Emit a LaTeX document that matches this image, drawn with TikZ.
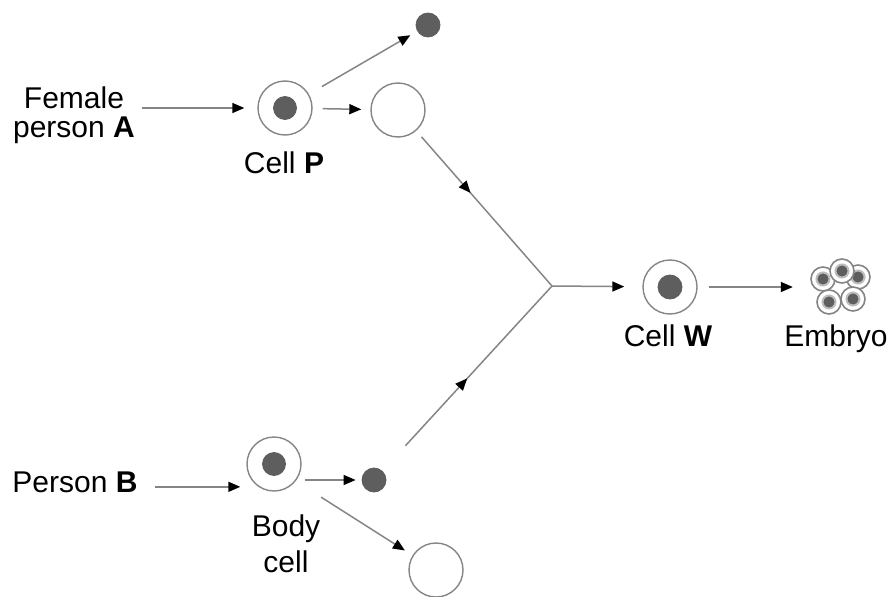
\documentclass[tikz,border=0pt]{standalone}
\usepackage{fontspec}
\setmainfont{Liberation Sans}
\usetikzlibrary{arrows.meta,decorations.markings,calc}
\definecolor{linegray}{HTML}{858585}
\definecolor{nucgray}{HTML}{5E5E5E}
\begin{document}
\begin{tikzpicture}[x=1pt,y=-1pt,
  lbl/.style={font=\fontsize{30}{29}\selectfont, inner sep=0pt, align=center},
  cell/.style={circle, draw=linegray, line width=1.4pt, fill=white, minimum size=54pt, inner sep=0pt},
  nucleus/.style={circle, draw=linegray!70!black, fill=nucgray, line width=0.8pt, minimum size=23pt, inner sep=0pt},
  embcell/.style={circle, draw=linegray, line width=1.6pt, fill=white, minimum size=24pt, inner sep=0pt},
  embnuc/.style={circle, draw=linegray!55, fill=nucgray, line width=2pt, minimum size=13pt, inner sep=0pt},
  conn/.style={draw=linegray, line width=1.5pt},
  arr/.style={conn, -{Triangle[length=12pt,width=10pt,color=black]}},
  midarrow/.style={conn, postaction={decorate},
    decoration={markings, mark=at position #1 with {\arrow{Triangle[length=12pt,width=10pt,color=black]}}}}
]
\useasboundingbox (0,0) rectangle (895,597);

% text labels
\node[lbl] (femA) at (74,115) {Female\\person \textbf{A}};
\node[lbl, anchor=base] (persB) at (75,492) {Person \textbf{B}};
\node[lbl, anchor=base] (labP) at (284,173) {Cell \textbf{P}};
\node[lbl, anchor=base] (labW) at (668,346) {Cell \textbf{W}};
\node[lbl, anchor=base] (labE) at (836,346) {Embryo};
\node[lbl, font=\fontsize{30}{36}\selectfont] (labB) at (286,544) {Body\\cell};

% cells of person A
\node[cell] (cellP) at (285,108) {};
\node[nucleus] (nucP) at (cellP) {};
\node[cell] (eggP) at (398,110) {};
\node[nucleus, minimum size=24pt] (dotP) at (428,25) {};

% cells of person B
\node[cell] (bodyC) at (274,464) {};
\node[nucleus] (nucB) at (bodyC) {};
\node[nucleus, minimum size=24pt] (dotB) at (374,480) {};
\node[cell] (eggB) at (436,570) {};

% fused cell
\node[cell] (cellW) at (670,287) {};
\node[nucleus, minimum size=24pt] (nucW) at (cellW) {};
\coordinate (join) at (552,286);

% embryo cluster
\node[minimum width=60pt, minimum height=52pt, inner sep=0pt] (emb) at (840,287) {};
\foreach \p in {(823,279),(858,277),(842,271),(829,302),(853,299)}{
  \node[embcell] at \p {};
  \node[embnuc] at \p {};
}

% connectors
\draw[arr, shorten <=7pt, shorten >=13pt] (femA.east |- cellP.west) -- (cellP.west);
\draw[arr, shorten <=10pt, shorten >=9pt] (cellP) -- (eggP);
\draw[arr, shorten <=15pt, shorten >=8pt] (cellP) -- (dotP);
\draw[midarrow=0.40, shorten <=8pt] (eggP) -- (join);
\draw[midarrow=0.50, shorten <=34pt] (dotB) -- (join);
\draw[arr, shorten >=18pt] (join) -- (cellW);
\draw[arr, shorten <=11pt, shorten >=17pt] (cellW) -- (emb);
\draw[arr, shorten <=17pt, shorten >=6pt] ([yshift=-5pt]persB.east) -- ([yshift=-5pt]persB.east -| bodyC.west);
\draw[arr, shorten <=3pt, shorten >=6pt] (bodyC.east |- dotB) -- (dotB);
\draw[arr, shorten <=30pt, shorten >=9pt] (bodyC.-38) -- (eggB.148);
\end{tikzpicture}
\end{document}
